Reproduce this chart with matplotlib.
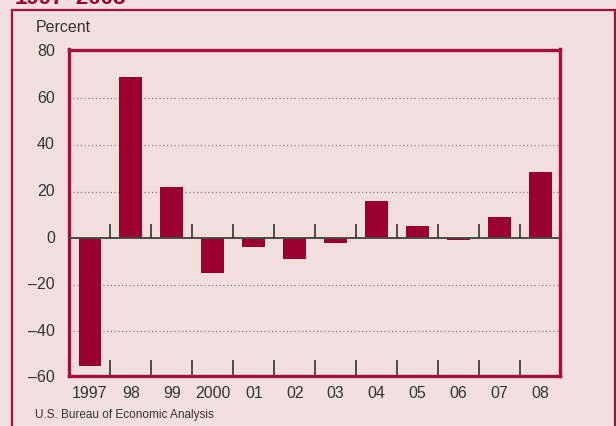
import matplotlib.pyplot as plt
import matplotlib.patches as patches
import matplotlib.transforms as mtransforms
import numpy as np

plt.rcParams['font.family'] = ['Liberation Sans', 'DejaVu Sans']

years = ['1997', '98', '99', '2000', '01', '02', '03', '04', '05', '06', '07', '08']
pct_change = [-55, 69, 22, -15, -4, -9, -2, 16, 5, -0.6, 9, 28.5]
ytick_vals = [-60, -40, -20, 0, 20, 40, 60, 80]
grid_vals = [-40, -20, 20, 40, 60]

bg = '#F4DFDF'
red = '#990030'
frame = '#A3103C'
txt = '#333333'

fig = plt.figure(figsize=(6.16, 4.26), dpi=100, facecolor=bg)
ax = fig.add_axes([68.7 / 616, 1 - 376 / 426, (560 - 68.7) / 616, (376 - 49.5) / 426])
ax.set_facecolor(bg)

x = np.arange(len(years))
ax.bar(x, pct_change, width=0.56, color=red, zorder=2)

ax.set_xlim(-0.52, 11.48)
ax.set_ylim(-59.2, 81)

# dotted grid lines
for g in grid_vals:
    ax.axhline(g, color='#8a7a7a', lw=0.9, ls=(0, (1, 2)), zorder=1)
ax.axhline(0, color='#4a4a4a', lw=1.4, zorder=3)

# separators between years, up from zero line and up from bottom
seps = x[:-1] + 0.5
ax.vlines(seps, 0, 6.2, color=txt, lw=1.2, zorder=3)
ax.set_xticks(x)
ax.set_xticklabels(years, fontsize=11.5, color=txt)
ax.tick_params(axis='x', length=0, pad=7)
ax.set_xticks(seps, minor=True)
ax.tick_params(axis='x', which='minor', direction='in', length=11.5, width=1.2, color=txt)

# y labels drawn by hand so -60 sits just under the frame
ax.set_yticks([])
trans = mtransforms.blended_transform_factory(ax.transAxes, ax.transData)
for v in ytick_vals:
    lab = str(v).replace('-', '\u2013')
    ax.text(-13.7 / 491, v, lab, transform=trans, ha='right', va='center',
            fontsize=11.5, color=txt, clip_on=False)

for s in ax.spines.values():
    s.set_color(frame)
    s.set_linewidth(2.4)

fig.text(36 / 616, 1 - 27 / 426, 'Percent', fontsize=11.5, color=txt, va='center')
fig.text(35 / 616, 1 - 415 / 426, 'U.S. Bureau of Economic Analysis', fontsize=8.5,
         color=txt, va='center')
fig.text(15 / 616, 1 - 4 / 426, '1997\u20132008', fontsize=16, fontweight='bold',
         color=red, va='baseline')

# outer panel frame
fig.patches.append(patches.Rectangle((12 / 616, -0.1), (615 - 12) / 616, 1.1 - 10 / 426,
                                     transform=fig.transFigure, fill=False,
                                     edgecolor=frame, lw=1.6))

fig.savefig('out.png', dpi=100, facecolor=bg)
